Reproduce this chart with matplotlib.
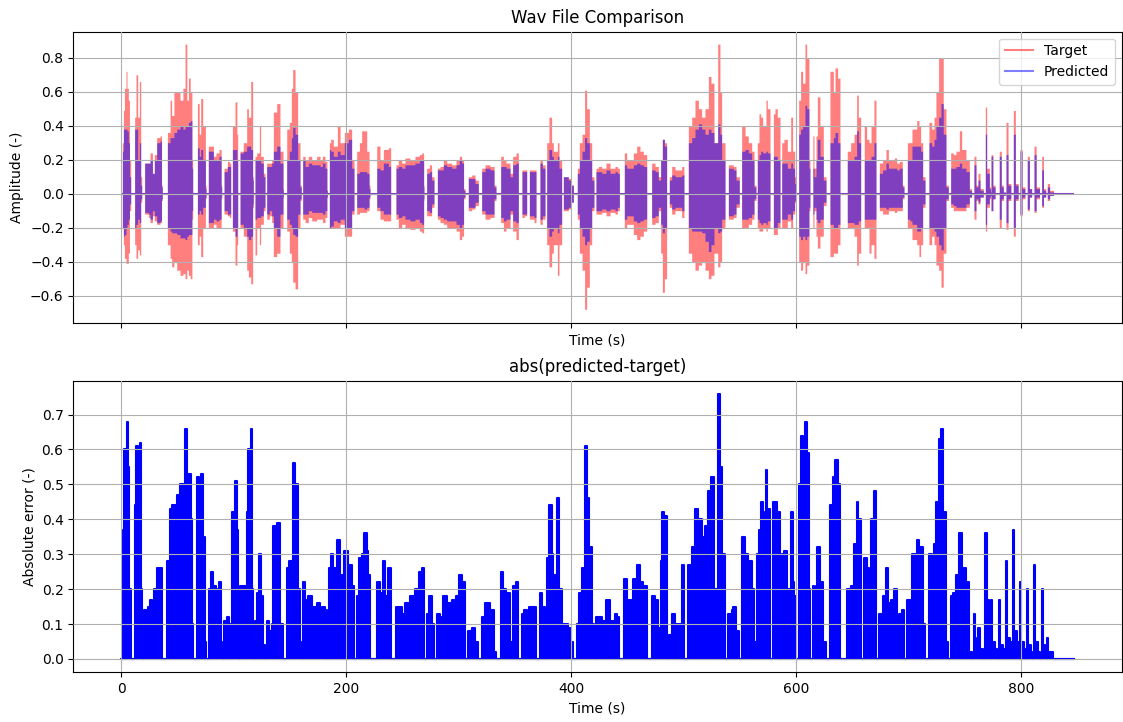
import numpy as np
import matplotlib
matplotlib.use('Agg')
import matplotlib.pyplot as plt
from matplotlib.lines import Line2D

# envelope of the waveforms (time in s), one line per burst
top_time = [0.0,
    1.2, 2.1, 3.0, 4.4, 5.3, 6.5, 7.5, 8.6,
    11.0, 12.1, 13.3, 14.8, 16.3, 17.5, 18.4,
    20.4, 21.0, 24.3, 25.8, 27.9, 29.6, 31.7, 34.7, 36.0, 36.7,
    40.6, 41.2, 43.6, 45.0, 47.0, 49.5, 52.4, 55.0, 56.9, 58.5, 59.9, 61.5, 63.0, 63.7,
    66.4, 67.9, 69.5, 70.8, 72.6, 75.0, 75.6,
    76.5, 77.6, 79.7, 82.1, 84.4, 87.1, 89.0, 89.5,
    91.0, 91.6, 94.5, 96.3, 97.5,
    98.4, 99.0, 101.3, 103.0, 103.7,
    104.3, 105.8, 108.7, 111.7, 113.2, 115.3, 117.0, 117.6,
    118.6, 119.1, 120.6, 123.0, 124.1, 126.5, 128.0,
    129.0, 129.5, 131.9, 133.9, 135.4, 138.4, 141.3, 144.0, 144.3,
    145.8, 147.3, 149.6, 151.4, 152.6, 154.7, 157.0, 159.1, 160.2,
    160.6, 161.5, 163.6, 166.5, 169.5, 173.9, 176.9, 179.0, 181.3, 183.0, 183.4,
    184.0, 185.2, 186.4, 188.7, 192.3, 194.7, 198.5, 202.1, 205.0, 207.1,
    208.9, 209.5, 211.9, 213.9, 216.0, 218.4, 220.5, 221.3,
    225.8, 227.3, 230.2, 233.2, 237.6, 239.7,
    243.5, 244.4, 246.5, 249.5, 252.4, 256.9, 261.3, 265.2, 267.3, 269.0, 269.3,
    271.1, 271.7, 274.1, 276.1, 278.2,
    280.6, 281.2, 283.6, 286.5, 289.5, 293.9, 297.8, 300.7, 302.8, 304.5, 305.8,
    307.3, 308.7, 311.7, 314.7, 317.6,
    319.7, 320.6, 323.6, 328.0, 331.6, 333.3,
    335.4, 337.5, 339.9, 342.2, 345.8, 348.1, 351.1, 353.2,
    355.0, 356.4, 358.5, 360.6,
    362.1, 363.0, 367.1, 368.9,
    370.4, 372.4, 374.5, 376.9,
    377.8, 378.4, 380.4, 382.8, 384.3, 387.9, 389.3, 391.7,
    392.6, 393.2, 397.6, 400.0, 402.1,
    405.0, 405.6, 407.4, 409.8, 412.1, 413.9, 416.3, 418.4, 420.4,
    421.3, 422.2, 424.3, 427.3, 431.1, 434.7, 439.1, 441.2, 443.0,
    446.0, 447.4, 449.5, 455.4, 458.4, 461.3, 464.3, 467.3,
    470.2, 471.7, 474.7, 477.6, 479.7, 481.2, 483.0, 485.0,
    486.5, 487.4, 489.5, 492.4, 498.4, 500.4,
    502.2, 504.3, 507.3, 510.2, 513.2, 516.1, 519.1, 522.1, 524.4, 527.1, 530.4, 532.4, 533.9, 536.9,
    538.4, 539.9, 542.8, 544.3, 546.7, 549.6,
    550.2, 551.7, 554.7, 557.6, 560.6, 562.7, 564.4,
    565.0, 565.6, 567.1, 568.6, 570.4, 573.3, 574.5, 576.9,
    578.8, 579.9, 581.3, 583.4, 585.8,
    587.0, 587.3, 589.3, 592.3, 595.3, 597.0, 598.8, 600.3,
    601.0, 602.4, 604.1, 605.9, 608.0, 609.5, 611.5, 612.4,
    614.0, 615.0, 616.0, 617.8, 619.0, 621.3, 624.3, 626.7,
    628.7, 630.2, 633.2, 634.7, 637.0, 639.1,
    644.5, 645.6, 648.6, 651.6, 653.9, 655.4, 657.5,
    659.3, 660.7, 662.8, 664.9, 666.7, 669.3, 671.1,
    673.8, 674.1, 677.0, 680.0, 682.1, 684.1, 687.4, 689.5, 691.9, 694.5, 696.0,
    697.8, 699.0, 701.3, 703.1, 707.3, 709.3, 710.8, 712.6, 714.7,
    716.7, 718.2, 720.6, 722.7, 724.4, 726.8, 728.9, 730.9, 733.3, 735.4,
    736.3, 737.5, 739.9, 742.2, 745.2, 747.3, 751.1, 754.1, 756.1,
    757.8, 758.2, 760.0, 761.8, 763.6, 766.5,
    767.8, 768.3, 769.5, 771.9, 773.0, 773.4, 775.0, 777.0,
    780.2, 780.7, 782.5, 784.3, 786.2, 786.7, 788.5, 791.0,
    792.7, 793.2, 795.0, 797.5, 798.6, 799.1, 801.0, 803.5,
    805.1, 805.6, 807.5, 809.5, 811.1, 811.6, 813.5, 816.5,
    817.9, 818.4, 820.0, 822.0, 822.9, 823.4, 825.5, 829.0, 847.0]

target_hi = [0,
    0.30, 0.49, 0.62, 0.72, 0.62, 0.55, 0.20, 0,
    0, 0.45, 0.70, 0.45, 0.66, 0.10, 0,
    0, 0.18, 0.18, 0.24, 0.12, 0.23, 0.33, 0.34, 0.05, 0,
    0, 0.36, 0.55, 0.46, 0.60, 0.60, 0.55, 0.62, 0.88, 0.55, 0.68, 0.60, 0.20, 0,
    0, 0.53, 0.35, 0.56, 0.40, 0.05, 0,
    0, 0.28, 0.28, 0.22, 0.24, 0.26, 0.05, 0,
    0, 0.15, 0.19, 0.18, 0,
    0, 0.40, 0.54, 0.35, 0,
    0, 0.25, 0.30, 0.50, 0.45, 0.66, 0.10, 0,
    0, 0.22, 0.24, 0.40, 0.22, 0.12, 0,
    0, 0.18, 0.18, 0.20, 0.48, 0.53, 0.25, 0.03, 0,
    0, 0.38, 0.42, 0.62, 0.73, 0.60, 0.30, 0.05, 0,
    0, 0.22, 0.20, 0.22, 0.20, 0.22, 0.20, 0.22, 0.19, 0.02, 0,
    0, 0.30, 0.32, 0.28, 0.40, 0.30, 0.36, 0.38, 0.20, 0,
    0, 0.25, 0.30, 0.37, 0.37, 0.25, 0.05, 0,
    0, 0.28, 0.20, 0.26, 0.27, 0,
    0, 0.17, 0.20, 0.18, 0.21, 0.20, 0.22, 0.23, 0.24, 0.05, 0,
    0, 0.15, 0.17, 0.10, 0,
    0, 0.15, 0.16, 0.20, 0.18, 0.17, 0.20, 0.22, 0.20, 0.03, 0,
    0, 0.10, 0.11, 0.08, 0,
    0, 0.15, 0.17, 0.16, 0.05, 0,
    0, 0.22, 0.20, 0.18, 0.12, 0.22, 0.24, 0,
    0, 0.14, 0.14, 0,
    0, 0.14, 0.14, 0,
    0, 0.20, 0.17, 0,
    0, 0.30, 0.45, 0.30, 0.25, 0.30, 0.20, 0,
    0, 0.10, 0.09, 0.05, 0,
    0, 0.15, 0.30, 0.35, 0.61, 0.50, 0.30, 0.10, 0,
    0, 0.15, 0.16, 0.15, 0.18, 0.15, 0.16, 0.15, 0,
    0, 0.24, 0.20, 0.24, 0.28, 0.25, 0.23, 0,
    0, 0.18, 0.16, 0.10, 0.20, 0.32, 0.30, 0,
    0, 0.10, 0.16, 0.14, 0.16, 0,
    0, 0.40, 0.45, 0.55, 0.50, 0.45, 0.50, 0.69, 0.65, 0.30, 0.88, 0.60, 0.30, 0,
    0, 0.17, 0.17, 0.16, 0.10, 0,
    0, 0.40, 0.34, 0.30, 0.25, 0.05, 0,
    0, 0.30, 0.47, 0.45, 0.40, 0.55, 0.50, 0,
    0, 0.47, 0.50, 0.45, 0,
    0, 0.30, 0.32, 0.25, 0.45, 0.25, 0.10, 0,
    0, 0.55, 0.72, 0.65, 0.88, 0.80, 0.20, 0,
    0, 0.34, 0.15, 0.34, 0.57, 0.40, 0.10, 0,
    0, 0.72, 0.60, 0.74, 0.68, 0,
    0, 0.25, 0.30, 0.35, 0.58, 0.45, 0,
    0, 0.40, 0.32, 0.30, 0.40, 0.55, 0,
    0, 0.18, 0.20, 0.26, 0.20, 0.20, 0.21, 0.18, 0.19, 0.05, 0,
    0, 0.30, 0.30, 0.38, 0.43, 0.40, 0.30, 0.10, 0,
    0, 0.42, 0.38, 0.45, 0.60, 0.80, 0.80, 0.50, 0.05, 0,
    0, 0.24, 0.23, 0.25, 0.37, 0.26, 0.20, 0.03, 0,
    0, 0.22, 0.05, 0.12, 0.03, 0,
    0, 0.51, 0.15, 0.04, 0.01, 0.23, 0.05, 0,
    0, 0.25, 0.05, 0.01, 0, 0.42, 0.06, 0,
    0, 0.49, 0.06, 0, 0, 0.26, 0.04, 0,
    0, 0.22, 0.03, 0, 0, 0.28, 0.04, 0,
    0, 0.22, 0.03, 0, 0, 0.06, 0.02, 0, 0]

target_lo = [0,
    -0.20, -0.30, -0.38, -0.41, -0.41, -0.35, -0.10, 0,
    0, -0.30, -0.38, -0.33, -0.36, -0.05, 0,
    0, -0.12, -0.14, -0.17, -0.13, -0.16, -0.18, -0.17, -0.04, 0,
    0, -0.30, -0.38, -0.43, -0.40, -0.45, -0.48, -0.47, -0.50, -0.45, -0.48, -0.50, -0.15, 0,
    0, -0.30, -0.25, -0.37, -0.20, -0.03, 0,
    0, -0.20, -0.20, -0.18, -0.20, -0.20, -0.03, 0,
    0, -0.12, -0.13, -0.14, 0,
    0, -0.22, -0.42, -0.30, 0,
    0, -0.20, -0.25, -0.45, -0.49, -0.53, -0.08, 0,
    0, -0.36, -0.20, -0.30, -0.18, -0.10, 0,
    0, -0.15, -0.13, -0.17, -0.37, -0.35, -0.20, -0.02, 0,
    0, -0.22, -0.35, -0.40, -0.52, -0.56, -0.20, -0.04, 0,
    0, -0.15, -0.17, -0.14, -0.16, -0.15, -0.15, -0.17, -0.14, -0.02, 0,
    0, -0.20, -0.20, -0.20, -0.20, -0.18, -0.25, -0.25, -0.12, 0,
    0, -0.12, -0.11, -0.11, -0.11, -0.10, -0.03, 0,
    0, -0.10, -0.15, -0.16, -0.16, 0,
    0, -0.15, -0.20, -0.18, -0.20, -0.21, -0.20, -0.22, -0.23, -0.04, 0,
    0, -0.13, -0.13, -0.08, 0,
    0, -0.15, -0.17, -0.18, -0.20, -0.20, -0.22, -0.27, -0.25, -0.03, 0,
    0, -0.10, -0.09, -0.07, 0,
    0, -0.12, -0.15, -0.14, -0.04, 0,
    0, -0.17, -0.22, -0.20, -0.12, -0.22, -0.27, 0,
    0, -0.14, -0.13, 0,
    0, -0.15, -0.17, 0,
    0, -0.18, -0.15, 0,
    0, -0.30, -0.43, -0.35, -0.30, -0.48, -0.30, 0,
    0, -0.10, -0.09, -0.05, 0,
    0, -0.15, -0.35, -0.45, -0.68, -0.55, -0.30, -0.10, 0,
    0, -0.12, -0.12, -0.11, -0.13, -0.11, -0.12, -0.10, 0,
    0, -0.20, -0.18, -0.24, -0.27, -0.25, -0.22, 0,
    0, -0.18, -0.17, -0.10, -0.35, -0.58, -0.50, 0,
    0, -0.08, -0.12, -0.10, -0.14, 0,
    0, -0.35, -0.40, -0.45, -0.42, -0.40, -0.45, -0.50, -0.48, -0.35, -0.43, -0.40, -0.20, 0,
    0, -0.15, -0.15, -0.14, -0.08, 0,
    0, -0.20, -0.20, -0.18, -0.15, -0.04, 0,
    0, -0.20, -0.22, -0.22, -0.20, -0.22, -0.20, 0,
    0, -0.24, -0.24, -0.20, 0,
    0, -0.20, -0.20, -0.16, -0.20, -0.12, -0.05, 0,
    0, -0.40, -0.45, -0.40, -0.47, -0.42, -0.10, 0,
    0, -0.20, -0.10, -0.25, -0.32, -0.25, -0.07, 0,
    0, -0.37, -0.35, -0.35, -0.30, 0,
    0, -0.20, -0.20, -0.25, -0.42, -0.35, 0,
    0, -0.20, -0.20, -0.35, -0.30, -0.38, 0,
    0, -0.10, -0.12, -0.12, -0.10, -0.10, -0.11, -0.10, -0.10, -0.03, 0,
    0, -0.20, -0.20, -0.27, -0.30, -0.37, -0.30, -0.08, 0,
    0, -0.30, -0.25, -0.30, -0.42, -0.45, -0.55, -0.35, -0.04, 0,
    0, -0.08, -0.10, -0.10, -0.10, -0.10, -0.08, -0.02, 0,
    0, -0.15, -0.04, -0.06, -0.02, 0,
    0, -0.22, -0.08, -0.03, -0.01, -0.10, -0.03, 0,
    0, -0.20, -0.04, -0.01, 0, -0.21, -0.04, 0,
    0, -0.25, -0.04, 0, 0, -0.13, -0.03, 0,
    0, -0.10, -0.02, 0, 0, -0.11, -0.03, 0,
    0, -0.08, -0.02, 0, 0, -0.04, -0.01, 0, 0]

pred_hi = [0,
    0.25, 0.38, 0.38, 0.38, 0.37, 0.30, 0.10, 0,
    0, 0.38, 0.38, 0.20, 0.30, 0.05, 0,
    0, 0.18, 0.18, 0.20, 0.12, 0.20, 0.30, 0.31, 0.04, 0,
    0, 0.30, 0.33, 0.33, 0.36, 0.38, 0.40, 0.38, 0.40, 0.40, 0.42, 0.43, 0.15, 0,
    0, 0.27, 0.22, 0.26, 0.20, 0.03, 0,
    0, 0.25, 0.25, 0.20, 0.20, 0.22, 0.04, 0,
    0, 0.13, 0.16, 0.16, 0,
    0, 0.26, 0.26, 0.20, 0,
    0, 0.24, 0.25, 0.28, 0.28, 0.26, 0.08, 0,
    0, 0.20, 0.20, 0.20, 0.18, 0.10, 0,
    0, 0.16, 0.16, 0.18, 0.25, 0.28, 0.18, 0.02, 0,
    0, 0.20, 0.25, 0.33, 0.39, 0.35, 0.20, 0.04, 0,
    0, 0.20, 0.16, 0.18, 0.17, 0.17, 0.16, 0.18, 0.15, 0.02, 0,
    0, 0.26, 0.25, 0.22, 0.25, 0.23, 0.30, 0.32, 0.15, 0,
    0, 0.12, 0.13, 0.13, 0.13, 0.12, 0.03, 0,
    0, 0.15, 0.14, 0.18, 0.16, 0,
    0, 0.15, 0.16, 0.15, 0.17, 0.17, 0.18, 0.20, 0.20, 0.04, 0,
    0, 0.12, 0.13, 0.08, 0,
    0, 0.14, 0.14, 0.17, 0.16, 0.15, 0.17, 0.20, 0.18, 0.02, 0,
    0, 0.09, 0.09, 0.06, 0,
    0, 0.13, 0.15, 0.14, 0.04, 0,
    0, 0.16, 0.16, 0.15, 0.10, 0.17, 0.18, 0,
    0, 0.13, 0.13, 0,
    0, 0.13, 0.13, 0,
    0, 0.18, 0.15, 0,
    0, 0.20, 0.26, 0.22, 0.20, 0.22, 0.15, 0,
    0, 0.10, 0.08, 0.05, 0,
    0, 0.12, 0.20, 0.25, 0.33, 0.30, 0.20, 0.08, 0,
    0, 0.13, 0.13, 0.12, 0.14, 0.12, 0.13, 0.12, 0,
    0, 0.17, 0.15, 0.17, 0.18, 0.17, 0.16, 0,
    0, 0.14, 0.13, 0.08, 0.20, 0.32, 0.28, 0,
    0, 0.08, 0.11, 0.10, 0.11, 0,
    0, 0.30, 0.33, 0.38, 0.41, 0.38, 0.35, 0.38, 0.36, 0.30, 0.41, 0.35, 0.20, 0,
    0, 0.15, 0.15, 0.14, 0.08, 0,
    0, 0.25, 0.26, 0.24, 0.20, 0.04, 0,
    0, 0.20, 0.23, 0.25, 0.24, 0.25, 0.24, 0,
    0, 0.22, 0.22, 0.20, 0,
    0, 0.18, 0.18, 0.15, 0.18, 0.15, 0.06, 0,
    0, 0.35, 0.38, 0.40, 0.52, 0.50, 0.15, 0,
    0, 0.15, 0.10, 0.20, 0.32, 0.22, 0.08, 0,
    0, 0.30, 0.33, 0.36, 0.30, 0,
    0, 0.20, 0.20, 0.22, 0.37, 0.30, 0,
    0, 0.20, 0.20, 0.20, 0.22, 0.30, 0,
    0, 0.12, 0.14, 0.18, 0.15, 0.15, 0.15, 0.14, 0.15, 0.04, 0,
    0, 0.20, 0.20, 0.28, 0.28, 0.28, 0.25, 0.08, 0,
    0, 0.30, 0.28, 0.32, 0.40, 0.45, 0.53, 0.35, 0.04, 0,
    0, 0.15, 0.15, 0.16, 0.18, 0.15, 0.13, 0.02, 0,
    0, 0.17, 0.04, 0.08, 0.02, 0,
    0, 0.35, 0.12, 0.03, 0.01, 0.22, 0.04, 0,
    0, 0.22, 0.04, 0.01, 0, 0.23, 0.05, 0,
    0, 0.35, 0.05, 0, 0, 0.25, 0.03, 0,
    0, 0.20, 0.03, 0, 0, 0.23, 0.03, 0,
    0, 0.14, 0.02, 0, 0, 0.04, 0.01, 0, 0]

pred_lo = [0,
    -0.20, -0.25, -0.24, -0.20, -0.18, -0.15, -0.06, 0,
    0, -0.20, -0.18, -0.15, -0.17, -0.03, 0,
    0, -0.11, -0.12, -0.15, -0.10, -0.13, -0.17, -0.16, -0.03, 0,
    0, -0.20, -0.22, -0.23, -0.23, -0.24, -0.26, -0.26, -0.27, -0.25, -0.24, -0.24, -0.10, 0,
    0, -0.12, -0.10, -0.12, -0.08, -0.02, 0,
    0, -0.17, -0.17, -0.15, -0.16, -0.15, -0.02, 0,
    0, -0.10, -0.12, -0.12, 0,
    0, -0.20, -0.25, -0.20, 0,
    0, -0.18, -0.20, -0.25, -0.27, -0.25, -0.06, 0,
    0, -0.15, -0.14, -0.14, -0.13, -0.08, 0,
    0, -0.12, -0.10, -0.13, -0.20, -0.25, -0.12, -0.02, 0,
    0, -0.15, -0.18, -0.20, -0.24, -0.25, -0.12, -0.03, 0,
    0, -0.12, -0.12, -0.10, -0.11, -0.11, -0.11, -0.12, -0.10, -0.02, 0,
    0, -0.20, -0.19, -0.16, -0.17, -0.15, -0.20, -0.20, -0.10, 0,
    0, -0.08, -0.08, -0.08, -0.09, -0.08, -0.02, 0,
    0, -0.08, -0.10, -0.12, -0.12, 0,
    0, -0.12, -0.14, -0.13, -0.15, -0.16, -0.15, -0.17, -0.18, -0.03, 0,
    0, -0.10, -0.11, -0.06, 0,
    0, -0.13, -0.14, -0.15, -0.16, -0.16, -0.18, -0.20, -0.18, -0.02, 0,
    0, -0.08, -0.08, -0.05, 0,
    0, -0.10, -0.12, -0.12, -0.03, 0,
    0, -0.14, -0.16, -0.15, -0.10, -0.16, -0.17, 0,
    0, -0.12, -0.12, 0,
    0, -0.13, -0.14, 0,
    0, -0.15, -0.13, 0,
    0, -0.20, -0.25, -0.22, -0.20, -0.23, -0.18, 0,
    0, -0.09, -0.08, -0.05, 0,
    0, -0.12, -0.20, -0.25, -0.30, -0.28, -0.20, -0.08, 0,
    0, -0.10, -0.10, -0.09, -0.10, -0.09, -0.10, -0.08, 0,
    0, -0.15, -0.13, -0.16, -0.17, -0.16, -0.15, 0,
    0, -0.14, -0.13, -0.08, -0.18, -0.23, -0.20, 0,
    0, -0.06, -0.09, -0.08, -0.10, 0,
    0, -0.20, -0.22, -0.22, -0.22, -0.23, -0.28, -0.34, -0.30, -0.20, -0.23, -0.22, -0.15, 0,
    0, -0.13, -0.13, -0.12, -0.06, 0,
    0, -0.15, -0.15, -0.14, -0.12, -0.03, 0,
    0, -0.15, -0.17, -0.18, -0.17, -0.18, -0.16, 0,
    0, -0.20, -0.20, -0.17, 0,
    0, -0.15, -0.15, -0.12, -0.15, -0.10, -0.04, 0,
    0, -0.25, -0.27, -0.25, -0.27, -0.25, -0.08, 0,
    0, -0.12, -0.08, -0.15, -0.17, -0.15, -0.05, 0,
    0, -0.18, -0.20, -0.20, -0.18, 0,
    0, -0.17, -0.17, -0.18, -0.18, -0.16, 0,
    0, -0.15, -0.15, -0.15, -0.15, -0.15, 0,
    0, -0.08, -0.08, -0.09, -0.08, -0.08, -0.08, -0.08, -0.08, -0.02, 0,
    0, -0.15, -0.16, -0.18, -0.22, -0.22, -0.20, -0.06, 0,
    0, -0.20, -0.20, -0.22, -0.25, -0.30, -0.33, -0.20, -0.03, 0,
    0, -0.06, -0.07, -0.08, -0.08, -0.08, -0.06, -0.02, 0,
    0, -0.10, -0.03, -0.05, -0.02, 0,
    0, -0.18, -0.06, -0.02, -0.01, -0.10, -0.03, 0,
    0, -0.15, -0.03, -0.01, 0, -0.17, -0.03, 0,
    0, -0.20, -0.03, 0, 0, -0.12, -0.02, 0,
    0, -0.09, -0.02, 0, 0, -0.10, -0.02, 0,
    0, -0.07, -0.02, 0, 0, -0.03, -0.01, 0, 0]

# absolute error envelope
err_time = [0.0, 1.5, 2.1, 3.0, 4.4, 5.3, 6.5, 7.5, 8.6,
    11.9, 12.1, 13.3, 14.8, 16.6, 17.5, 18.4,
    20.4, 20.7, 24.3, 25.8, 27.9, 29.6, 31.7, 34.7, 36.0, 36.7,
    40.6, 41.2, 43.6, 45.0, 47.5, 49.5, 52.4, 54.5, 56.9, 58.5, 59.9, 62.0, 63.0, 63.7,
    66.4, 67.9, 69.5, 70.8, 72.6, 74.5, 75.6,
    77.6, 78.2, 79.7, 82.1, 84.4, 85.6, 87.1, 88.5, 89.5,
    91.0, 91.6, 94.5, 96.3, 97.5,
    98.4, 99.0, 101.3, 103.0, 103.7,
    104.3, 105.8, 108.7, 111.7, 113.2, 115.3, 116.8, 117.6,
    118.6, 119.1, 120.6, 123.0, 124.1, 126.5, 128.0,
    128.9, 129.5, 131.9, 133.9, 135.4, 138.4, 141.3, 144.3,
    145.8, 147.3, 149.6, 152.6, 154.7, 157.0, 159.1, 160.2,
    160.6, 161.5, 163.6, 166.5, 169.5, 173.9, 176.9, 178.4, 181.3, 183.4,
    184.3, 185.2, 186.4, 188.7, 192.3, 194.7, 198.5, 202.1, 205.0, 207.1,
    208.9, 209.5, 211.9, 213.9, 216.0, 218.4, 219.9, 221.3,
    225.8, 227.3, 230.2, 231.5, 233.2, 235.0, 237.6, 239.7,
    244.0, 244.4, 246.5, 249.5, 252.4, 256.9, 261.3, 265.2, 267.3, 269.3,
    271.1, 271.7, 274.1, 276.1, 278.2,
    280.6, 281.2, 283.6, 286.5, 289.5, 293.9, 297.8, 300.7, 302.8, 305.8,
    307.3, 308.7, 311.7, 314.7, 317.6,
    319.7, 320.6, 323.6, 328.0, 331.6, 333.3,
    335.4, 337.5, 339.9, 342.2, 345.8, 348.1, 351.1, 353.2,
    355.0, 356.4, 358.5, 360.6,
    362.1, 363.0, 367.1, 368.9,
    370.4, 372.4, 374.5, 376.9,
    377.8, 378.4, 380.4, 382.8, 384.3, 387.9, 389.3, 391.7,
    392.6, 393.2, 397.6, 400.0, 402.1,
    405.0, 405.6, 407.4, 409.8, 412.1, 413.9, 416.3, 418.4, 420.4,
    421.3, 422.2, 424.3, 427.3, 431.1, 434.7, 439.1, 441.2, 443.0,
    446.0, 447.4, 449.5, 455.4, 458.4, 461.3, 464.3, 467.3,
    470.2, 471.7, 474.7, 477.6, 479.7, 481.2, 483.0, 485.0,
    486.5, 487.4, 489.5, 492.4, 496.0, 498.4, 500.4,
    502.2, 504.3, 507.3, 510.2, 513.2, 516.1, 519.1, 522.1, 524.4, 527.1, 530.4, 532.4, 533.9, 536.9,
    538.4, 539.9, 542.8, 544.3, 546.7, 549.6,
    550.2, 551.7, 554.7, 557.6, 560.6, 562.7, 564.4,
    565.0, 565.6, 567.1, 568.6, 570.4, 571.6, 573.3, 574.5, 576.9,
    578.8, 579.9, 581.3, 583.4, 585.8,
    587.0, 587.3, 589.3, 592.3, 595.3, 597.0, 598.2, 600.3,
    601.0, 602.4, 604.1, 605.9, 608.0, 609.5, 611.5, 612.4,
    614.0, 615.0, 616.0, 617.8, 619.0, 621.3, 624.3, 626.7,
    628.7, 630.2, 633.2, 634.7, 637.0, 639.1,
    642.7, 645.6, 648.6, 651.6, 653.9, 655.4, 657.5,
    659.3, 660.7, 662.8, 664.9, 666.7, 669.3, 671.1,
    673.8, 674.1, 677.0, 680.0, 682.1, 684.1, 685.9, 687.4, 689.5, 691.9, 693.9, 696.0,
    697.8, 699.0, 701.3, 703.1, 707.3, 709.3, 710.8, 712.6, 714.7,
    716.7, 718.2, 720.6, 722.7, 724.4, 726.8, 728.9, 730.9, 733.3, 735.4,
    736.3, 737.5, 739.9, 742.2, 745.2, 747.3, 751.1, 754.1, 756.1,
    757.8, 758.2, 759.0, 760.0, 761.8, 763.6, 766.5,
    767.8, 768.3, 769.5, 771.9, 773.0, 773.4, 774.4, 776.9, 779.0,
    780.2, 780.7, 781.7, 784.3, 785.8,
    786.2, 786.7, 787.7, 790.2, 791.7,
    792.7, 793.2, 794.2, 796.7, 797.9,
    798.6, 799.1, 800.1, 802.7, 803.9,
    805.1, 805.6, 806.6, 808.6, 809.8,
    811.1, 811.6, 812.6, 815.4, 816.9,
    817.9, 818.4, 819.4, 821.3, 822.2,
    822.9, 823.4, 824.4, 828.7, 847.0]

err_val = [0, 0, 0.37, 0.60, 0.60, 0.68, 0.55, 0.20, 0,
    0, 0.44, 0.61, 0.45, 0.62, 0.20, 0,
    0, 0.14, 0.15, 0.17, 0.10, 0.20, 0.26, 0.26, 0.05, 0,
    0, 0.28, 0.43, 0.44, 0.44, 0.47, 0.50, 0.50, 0.66, 0.50, 0.53, 0.40, 0.10, 0,
    0, 0.52, 0.30, 0.53, 0.35, 0.05, 0,
    0, 0.20, 0.25, 0.21, 0.20, 0.17, 0.22, 0.05, 0,
    0, 0.11, 0.12, 0.10, 0,
    0, 0.42, 0.51, 0.37, 0,
    0, 0.21, 0.21, 0.42, 0.60, 0.66, 0.20, 0,
    0, 0.11, 0.19, 0.30, 0.18, 0.04, 0,
    0, 0.11, 0.08, 0.10, 0.38, 0.39, 0.10, 0,
    0, 0.26, 0.28, 0.56, 0.50, 0.20, 0.05, 0,
    0, 0.22, 0.17, 0.18, 0.15, 0.16, 0.14, 0.15, 0.14, 0,
    0, 0.26, 0.30, 0.26, 0.34, 0.24, 0.31, 0.27, 0.21, 0,
    0, 0.18, 0.29, 0.30, 0.36, 0.31, 0.24, 0,
    0, 0.22, 0.18, 0.19, 0.28, 0.18, 0.26, 0,
    0, 0.15, 0.15, 0.13, 0.16, 0.18, 0.20, 0.25, 0.26, 0,
    0, 0.13, 0.18, 0.10, 0,
    0, 0.13, 0.12, 0.18, 0.16, 0.17, 0.18, 0.24, 0.22, 0,
    0, 0.08, 0.09, 0.05, 0,
    0, 0.12, 0.16, 0.14, 0.02, 0,
    0, 0.25, 0.20, 0.19, 0.05, 0.21, 0.22, 0,
    0, 0.13, 0.14, 0,
    0, 0.15, 0.15, 0,
    0, 0.19, 0.15, 0,
    0, 0.29, 0.44, 0.30, 0.24, 0.46, 0.20, 0,
    0, 0.10, 0.09, 0.05, 0,
    0, 0.10, 0.19, 0.26, 0.61, 0.46, 0.32, 0.10, 0,
    0, 0.12, 0.12, 0.11, 0.17, 0.11, 0.13, 0.12, 0,
    0, 0.23, 0.17, 0.23, 0.27, 0.22, 0.21, 0,
    0, 0.18, 0.17, 0.09, 0.28, 0.42, 0.41, 0,
    0, 0.07, 0.13, 0.10, 0.10, 0.27, 0,
    0, 0.27, 0.32, 0.43, 0.40, 0.35, 0.38, 0.48, 0.52, 0.20, 0.76, 0.55, 0.30, 0,
    0, 0.13, 0.14, 0.15, 0.08, 0,
    0, 0.35, 0.30, 0.28, 0.20, 0.05, 0,
    0, 0.30, 0.37, 0.45, 0.42, 0.31, 0.54, 0.43, 0,
    0, 0.45, 0.45, 0.42, 0,
    0, 0.30, 0.31, 0.20, 0.42, 0.22, 0.18, 0,
    0, 0.50, 0.64, 0.59, 0.68, 0.59, 0.20, 0,
    0, 0.21, 0.10, 0.21, 0.32, 0.22, 0.05, 0,
    0, 0.44, 0.52, 0.57, 0.50, 0,
    0, 0.20, 0.21, 0.33, 0.45, 0.40, 0,
    0, 0.29, 0.26, 0.25, 0.40, 0.48, 0,
    0, 0.13, 0.18, 0.26, 0.16, 0.17, 0.13, 0.20, 0.12, 0.13, 0.14, 0,
    0, 0.17, 0.17, 0.30, 0.34, 0.32, 0.32, 0.10, 0,
    0, 0.30, 0.25, 0.33, 0.45, 0.63, 0.66, 0.42, 0.05, 0,
    0, 0.18, 0.19, 0.24, 0.36, 0.26, 0.22, 0.02, 0,
    0, 0.13, 0.06, 0.05, 0.09, 0.03, 0,
    0, 0.36, 0.17, 0.05, 0, 0.17, 0.05, 0.03, 0,
    0, 0.17, 0.04, 0.03, 0,
    0, 0.28, 0.06, 0.05, 0,
    0, 0.37, 0.08, 0.05, 0,
    0, 0.22, 0.05, 0.03, 0,
    0, 0.20, 0.04, 0.02, 0,
    0, 0.27, 0.05, 0.02, 0,
    0, 0.20, 0.04, 0.02, 0,
    0, 0.06, 0.02, 0, 0]

fig = plt.figure(figsize=(11.23, 7.22), dpi=100)
ax1 = fig.add_axes([0.0653, 0.553, 0.9336, 0.4031])
ax2 = fig.add_axes([0.0653, 0.0689, 0.9336, 0.4038], sharex=ax1)

# top: waveforms
ax1.fill_between(top_time, target_lo, target_hi, step='post', color='r', alpha=0.5, lw=0)
ax1.fill_between(top_time, pred_lo, pred_hi, step='post', color='b', alpha=0.5, lw=0)
ax1.hlines(0, top_time[0], top_time[-1], color='#7f3fbf', lw=1.5)
ax1.set_axisbelow(False)
ax1.grid(True)
ax1.set_title('Wav File Comparison')
ax1.set_ylabel('Amplitude (-)')
ax1.set_xlabel('Time (s)')
ax1.set_ylim(-0.759, 0.953)
ax1.set_yticks(np.arange(-0.6, 0.81, 0.2))
plt.setp(ax1.get_xticklabels(), visible=False)
handles = [Line2D([], [], color='r', alpha=0.5, lw=1.5),
           Line2D([], [], color='b', alpha=0.5, lw=1.5)]
ax1.legend(handles, ['Target', 'Predicted'], loc='upper right')

# bottom: absolute error
ax2.fill_between(err_time, 0, err_val, step='post', facecolor='b', lw=0)
ax2.step(err_time, err_val, where='post', color='b', lw=1.5)
ax2.hlines(0, err_time[0], err_time[-1], color='b', lw=1.5)
ax2.set_axisbelow(False)
ax2.grid(True)
ax2.set_title('abs(predicted-target)')
ax2.set_ylabel('Absolute error (-)')
ax2.set_xlabel('Time (s)')
ax2.set_ylim(-0.038, 0.797)
ax2.set_xlim(-42.4, 889.6)
ax2.set_xticks([0, 200, 400, 600, 800])

fig.savefig('out.png', dpi=100)
